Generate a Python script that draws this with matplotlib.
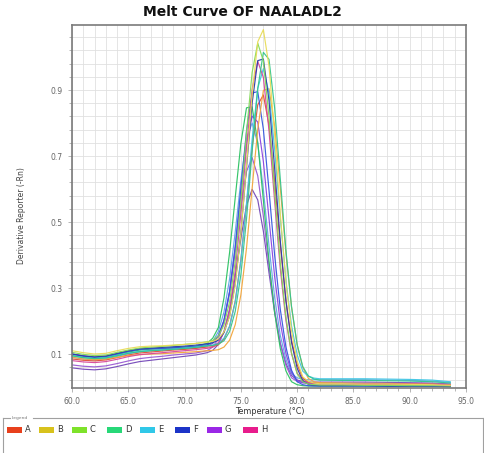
import matplotlib
matplotlib.use("Agg")
import matplotlib.pyplot as plt
from matplotlib.patches import Rectangle
from matplotlib.lines import Line2D
from matplotlib.ticker import FixedLocator, MultipleLocator

W, H = 485, 453

temperature = [60, 61, 62, 63, 64, 65, 66, 67, 68, 69, 70, 71,
               72, 72.5, 73, 73.5, 74, 74.5, 75, 75.5, 76, 76.5, 77, 77.5, 78,
               78.5, 79, 79.5, 80, 80.5, 81, 81.5, 82,
               84, 86, 88, 90, 92, 93.6]

curve_B1 = [0.110, 0.104, 0.100, 0.102, 0.110, 0.117, 0.122, 0.124, 0.125, 0.127, 0.129, 0.132,
            0.136, 0.138, 0.146, 0.167, 0.214, 0.309, 0.464, 0.670, 0.887, 1.046, 1.083, 0.973, 0.764,
            0.526, 0.319, 0.171, 0.079, 0.031, 0.017, 0.012, 0.010,
            0.010, 0.009, 0.009, 0.008, 0.007, 0.005]
curve_C1 = [0.105, 0.099, 0.095, 0.097, 0.105, 0.112, 0.118, 0.121, 0.123, 0.126, 0.129, 0.132,
            0.137, 0.141, 0.155, 0.188, 0.258, 0.382, 0.562, 0.771, 0.953, 1.042, 0.988, 0.818, 0.593,
            0.378, 0.213, 0.104, 0.040, 0.016, 0.009, 0.007, 0.006,
            0.006, 0.005, 0.005, 0.004, 0.004, 0.003]
curve_D1 = [0.095, 0.089, 0.086, 0.088, 0.095, 0.102, 0.107, 0.110, 0.112, 0.114, 0.117, 0.120,
            0.125, 0.126, 0.130, 0.140, 0.168, 0.229, 0.340, 0.508, 0.713, 0.904, 1.014, 0.993, 0.846,
            0.632, 0.416, 0.244, 0.129, 0.062, 0.033, 0.024, 0.021,
            0.020, 0.020, 0.019, 0.018, 0.016, 0.012]
curve_F1 = [0.100, 0.094, 0.091, 0.094, 0.102, 0.110, 0.116, 0.118, 0.120, 0.122, 0.124, 0.127,
            0.131, 0.134, 0.142, 0.165, 0.216, 0.314, 0.468, 0.665, 0.860, 0.989, 0.994, 0.868, 0.663,
            0.444, 0.262, 0.135, 0.057, 0.019, 0.008, 0.005, 0.004,
            0.004, 0.004, 0.003, 0.003, 0.003, 0.002]
curve_H1 = [0.080, 0.076, 0.074, 0.077, 0.084, 0.092, 0.098, 0.101, 0.104, 0.107, 0.110, 0.113,
            0.117, 0.121, 0.134, 0.166, 0.233, 0.352, 0.525, 0.727, 0.902, 0.987, 0.938, 0.777, 0.563,
            0.359, 0.202, 0.101, 0.042, 0.020, 0.013, 0.011, 0.010,
            0.010, 0.010, 0.009, 0.009, 0.008, 0.006]
curve_E1 = [0.095, 0.090, 0.087, 0.089, 0.096, 0.103, 0.108, 0.111, 0.113, 0.115, 0.118, 0.121,
            0.125, 0.127, 0.133, 0.148, 0.184, 0.257, 0.382, 0.557, 0.750, 0.905, 0.965, 0.891, 0.721,
            0.514, 0.325, 0.186, 0.098, 0.048, 0.033, 0.027, 0.025,
            0.025, 0.025, 0.024, 0.023, 0.021, 0.016]
curve_A1 = [0.090, 0.085, 0.083, 0.085, 0.090, 0.095, 0.098, 0.100, 0.101, 0.103, 0.105, 0.107,
            0.110, 0.111, 0.113, 0.121, 0.142, 0.189, 0.279, 0.420, 0.602, 0.781, 0.899, 0.904, 0.791,
            0.605, 0.406, 0.242, 0.128, 0.059, 0.026, 0.016, 0.013,
            0.012, 0.011, 0.011, 0.010, 0.009, 0.007]
curve_F2 = [0.100, 0.094, 0.090, 0.092, 0.100, 0.108, 0.114, 0.116, 0.117, 0.119, 0.121, 0.123,
            0.128, 0.136, 0.156, 0.202, 0.289, 0.426, 0.602, 0.776, 0.891, 0.895, 0.781, 0.596, 0.400,
            0.236, 0.122, 0.051, 0.016, 0.007, 0.004, 0.003, 0.003,
            0.003, 0.003, 0.003, 0.002, 0.002, 0.001]
curve_A2 = [0.085, 0.081, 0.079, 0.082, 0.089, 0.097, 0.103, 0.106, 0.109, 0.112, 0.114, 0.117,
            0.121, 0.122, 0.128, 0.145, 0.184, 0.260, 0.385, 0.551, 0.726, 0.855, 0.885, 0.793, 0.623,
            0.431, 0.263, 0.142, 0.068, 0.027, 0.015, 0.012, 0.010,
            0.010, 0.009, 0.009, 0.008, 0.008, 0.006]
curve_D2 = [0.095, 0.090, 0.087, 0.090, 0.098, 0.106, 0.112, 0.115, 0.117, 0.119, 0.121, 0.124,
            0.132, 0.148, 0.180, 0.270, 0.408, 0.574, 0.738, 0.846, 0.849, 0.741, 0.566, 0.381, 0.225,
            0.117, 0.049, 0.016, 0.007, 0.004, 0.003, 0.003, 0.003,
            0.003, 0.003, 0.002, 0.002, 0.002, 0.001]
curve_G1 = [0.100, 0.095, 0.092, 0.094, 0.101, 0.108, 0.113, 0.115, 0.116, 0.117, 0.118, 0.119,
            0.124, 0.132, 0.154, 0.202, 0.290, 0.422, 0.584, 0.734, 0.821, 0.803, 0.683, 0.510, 0.335,
            0.196, 0.102, 0.044, 0.020, 0.013, 0.011, 0.010, 0.010,
            0.010, 0.010, 0.010, 0.009, 0.009, 0.007]
curve_E2 = [0.090, 0.085, 0.082, 0.085, 0.093, 0.101, 0.107, 0.110, 0.112, 0.114, 0.116, 0.118,
            0.126, 0.138, 0.168, 0.227, 0.328, 0.470, 0.626, 0.752, 0.800, 0.738, 0.598, 0.428, 0.272,
            0.157, 0.084, 0.040, 0.028, 0.023, 0.022, 0.022, 0.022,
            0.022, 0.022, 0.021, 0.020, 0.018, 0.014]
curve_G2 = [0.067, 0.063, 0.061, 0.064, 0.071, 0.079, 0.086, 0.090, 0.093, 0.097, 0.100, 0.103,
            0.110, 0.121, 0.146, 0.198, 0.286, 0.408, 0.544, 0.653, 0.695, 0.640, 0.517, 0.368, 0.233,
            0.132, 0.066, 0.028, 0.017, 0.013, 0.012, 0.012, 0.012,
            0.012, 0.012, 0.011, 0.011, 0.010, 0.008]
curve_H2 = [0.058, 0.054, 0.052, 0.055, 0.062, 0.070, 0.077, 0.081, 0.085, 0.089, 0.093, 0.097,
            0.104, 0.111, 0.129, 0.168, 0.236, 0.335, 0.450, 0.550, 0.599, 0.567, 0.472, 0.346, 0.226,
            0.133, 0.072, 0.035, 0.021, 0.017, 0.015, 0.015, 0.015,
            0.015, 0.015, 0.014, 0.013, 0.012, 0.009]

curves = [
    (curve_H2, '#7448b8'),
    (curve_G2, '#9a5ad2'),
    (curve_E2, '#62a6e6'),
    (curve_G1, '#8a44e0'),
    (curve_D2, '#2bc262'),
    (curve_A2, '#e0503a'),
    (curve_F2, '#3557de'),
    (curve_A1, '#f2a63c'),
    (curve_E1, '#40c6e4'),
    (curve_H1, '#d6489c'),
    (curve_F1, '#2c3ca8'),
    (curve_D1, '#34c68e'),
    (curve_C1, '#84da5a'),
    (curve_B1, '#e8dc58'),
]

legend_labels = ['A', 'B', 'C', 'D', 'E', 'F', 'G', 'H']
legend_colors = ['#e8401c', '#d8c21c', '#7ee22a', '#28d878', '#30c8e8', '#1c34c8', '#9a28e6', '#e81c8c']

x_ticks = [60, 65, 70, 75, 80, 85, 90, 95]
y_ticks = [0.1, 0.3, 0.5, 0.7, 0.9]

fig = plt.figure(figsize=(W / 100, H / 100), dpi=100)
fig.patch.set_facecolor('white')

def fx(px):
    return px / W

def fy(py):
    return 1 - py / H

ax = fig.add_axes([fx(72), fy(388), fx(466) - fx(72), fy(25) - fy(388)])
for vals, col in curves:
    ax.plot(temperature, vals, color=col, lw=0.85, solid_joinstyle='round', alpha=0.95)

ax.set_xlim(60, 95)
ax.set_ylim(-0.003, 1.097)
ax.set_xticks(x_ticks)
ax.set_xticklabels([f"{t:.1f}" for t in x_ticks])
ax.set_yticks(y_ticks)
ax.set_yticklabels([f"{t:.1f}" for t in y_ticks])
ax.xaxis.set_minor_locator(MultipleLocator(1))
ax.yaxis.set_minor_locator(FixedLocator([0.02 + 0.04 * k for k in range(28)]))
ax.grid(True, which='both', color='#e0e0e0', lw=0.6, zorder=0)
ax.set_axisbelow(True)
ax.tick_params(which='both', direction='out', colors='#999999', labelcolor='#666666',
               labelsize=5.5, length=3, width=0.5)
ax.tick_params(which='minor', length=2)
for s in ax.spines.values():
    s.set_color('#7a7a7a')
    s.set_linewidth(1.2)

fig.text(0.5, fy(12), 'Melt Curve OF NAALADL2', ha='center', va='center',
         fontsize=10, fontweight='bold', color='#111111')
fig.text(fx(270), fy(411), 'Temperature (°C)', ha='center', va='center',
         fontsize=5.8, color='#333333')
fig.text(fx(22), fy(216), 'Derivative Reporter (-Rn)', ha='center', va='center',
         rotation=90, fontsize=5.5, color='#444444')

# legend box
frame_col = '#a0a0a0'
fig.add_artist(Line2D([fx(3), fx(3)], [fy(418), fy(453)], color=frame_col, lw=0.8))
fig.add_artist(Line2D([fx(3), fx(10)], [fy(418), fy(418)], color=frame_col, lw=0.8))
fig.add_artist(Line2D([fx(33), fx(483)], [fy(418), fy(418)], color=frame_col, lw=0.8))
fig.add_artist(Line2D([fx(483), fx(483)], [fy(418), fy(453)], color=frame_col, lw=0.8))
fig.text(fx(12), fy(418), 'Legend', ha='left', va='center', fontsize=3.2, color='#777777')

sw_x = [7, 39, 72, 107, 140, 175, 207, 243]
for lab, col, x0 in zip(legend_labels, legend_colors, sw_x):
    fig.add_artist(Rectangle((fx(x0), fy(433)), fx(15), fy(427) - fy(433),
                             facecolor=col, edgecolor='none', transform=fig.transFigure))
    fig.text(fx(x0 + 18), fy(430), lab, ha='left', va='center', fontsize=6, color='#333333')

fig.savefig('out.png', dpi=100, facecolor='white')
